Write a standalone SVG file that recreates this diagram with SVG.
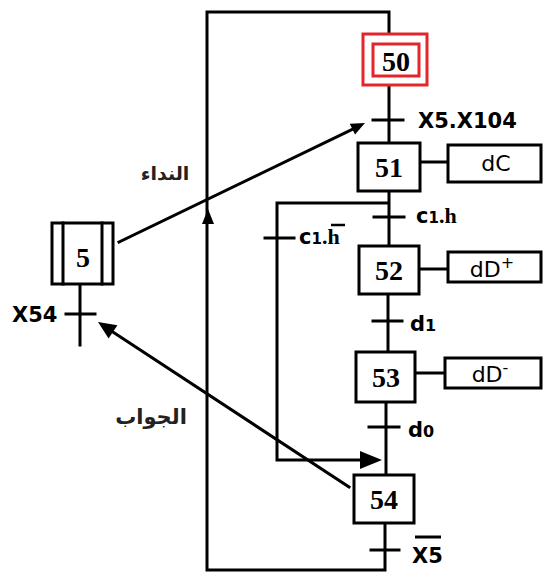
<svg xmlns="http://www.w3.org/2000/svg" width="543" height="573" viewBox="0 0 543 573">
<style>
.ln{fill:none;stroke:#000;stroke-width:3;stroke-linecap:square}
.bx{fill:#fff;stroke:#000;stroke-width:3}
.red{fill:none;stroke:#e3262b;stroke-width:3}
.num{font-family:"Liberation Serif",serif;font-weight:bold;font-size:28px;text-anchor:middle}
.lab{font-family:"DejaVu Sans",sans-serif;font-weight:bold;font-size:21px}
.act{font-family:"DejaVu Sans",sans-serif;font-size:22px;text-anchor:middle}
.ser{font-family:"Liberation Serif",serif;font-weight:bold}
.ar{font-family:"DejaVu Sans",sans-serif;font-weight:bold;fill:#222;text-anchor:middle}
.hd{fill:#000}
</style>
<g id="connectors">
<path class="ln" d="M389,33 V12 H207 V570 H385 V523"/>
<path class="ln" d="M389,86 V143"/>
<path class="ln" d="M373,120 H403"/>
<path class="ln" d="M389,191 V246"/>
<path class="ln" d="M374,217 H404"/>
<path class="ln" d="M388,294 V352"/>
<path class="ln" d="M373,321 H402"/>
<path class="ln" d="M386,402 V475"/>
<path class="ln" d="M369,427 H399"/>
<path class="ln" d="M371,550 H399"/>
<path class="ln" d="M388,203 H277 V460 H366"/>
<path class="hd" d="M382,460 L360,451 L360,469 z"/>
<path class="ln" d="M265,238 H294"/>
<path class="hd" d="M208,209 L202,224 L214,224 z"/>
<path class="ln" d="M420,162 H448"/>
<path class="ln" d="M419,269 H448"/>
<path class="ln" d="M415,373 H445"/>
<path class="ln" d="M80,284 V345"/>
<path class="ln" d="M66,314 H95"/>
<path class="ln" d="M119,242 L353,129"/>
<path class="hd" d="M365,123 L355,134.5 L349.8,123.7 z"/>
<path class="ln" d="M349,487 L113,332" stroke-width="3.6"/>
<path class="hd" d="M98,322 L117.4,325.2 L108.6,338.6 z"/>
</g>
<g id="step50">
<rect class="red" x="363" y="34" width="64" height="51"/>
<rect class="red" x="373" y="44" width="46" height="32"/>
<text class="num" x="396" y="71" font-size="30">50</text>
</g>
<g id="step51">
<rect class="bx" x="358" y="143" width="62" height="48"/>
<text class="num" x="389" y="177">51</text>
</g>
<g id="action51">
<rect class="bx" x="448" y="145" width="93" height="37"/>
<text class="act" x="496" y="171">dC</text>
</g>
<g id="step52">
<rect class="bx" x="359" y="246" width="60" height="48"/>
<text class="num" x="389" y="280">52</text>
</g>
<g id="action52">
<rect class="bx" x="448" y="252" width="93" height="30"/>
<text class="act" x="492" y="277">dD<tspan font-size="16" dy="-9">+</tspan></text>
</g>
<g id="step53">
<rect class="bx" x="356" y="352" width="59" height="50"/>
<text class="num" x="386" y="387">53</text>
</g>
<g id="action53">
<rect class="bx" x="445" y="358" width="96" height="30"/>
<text class="act" x="490" y="382">dD<tspan font-size="16" dy="-9">-</tspan></text>
</g>
<g id="step54">
<rect class="bx" x="354" y="475" width="60" height="48"/>
<text class="num" x="384" y="509" font-weight="normal">54</text>
</g>
<g id="step5">
<rect class="bx" x="52" y="223" width="61" height="61"/>
<path class="ln" d="M63,223 V284 M102,223 V284"/>
<text class="num" x="83" y="267">5</text>
</g>
<g id="labels">
<text class="lab" x="418" y="128" font-size="22">X5.X104</text>
<text class="lab" x="12" y="322">X54</text>
<text class="lab" x="412" y="563">X5</text>
<path d="M415,537 H441" stroke="#000" stroke-width="3"/>
<text class="lab" x="416" y="223" font-size="20">c<tspan font-size="15">1</tspan><tspan class="ser" font-size="22">.h</tspan></text>
<text class="lab" x="299" y="244" font-size="20">c<tspan font-size="15">1</tspan><tspan class="ser" font-size="22">.h</tspan></text>
<path d="M331,225 H345" stroke="#000" stroke-width="2.5"/>
<text class="lab" x="410" y="331" font-weight="normal" font-size="22">d<tspan font-size="16">1</tspan></text>
<text class="lab" x="408" y="437" font-weight="normal" font-size="22">d<tspan font-size="16">0</tspan></text>
<text class="ar" x="165" y="180" font-size="19">النداء</text>
<text class="ar" x="151" y="424" font-size="21">الجواب</text>
</g>
</svg>
